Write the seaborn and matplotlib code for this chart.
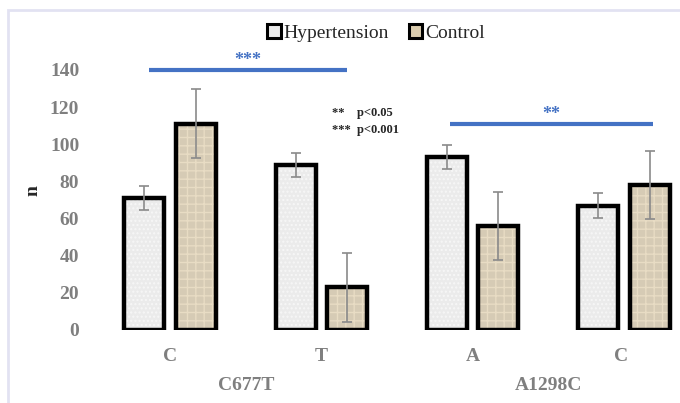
import numpy as np
import pandas as pd
import seaborn as sns
import matplotlib.pyplot as plt
from matplotlib.patches import Rectangle
from matplotlib.lines import Line2D

# data
alleles = ["C", "T", "A", "C "]
genes = ["C677T", "A1298C"]
hyper = [71, 89, 93, 67]
control = [111, 23, 56, 78]
hyper_err = [6.5, 6.5, 6.5, 6.5]
control_err = [18.5, 18.5, 18.5, 18.5]
groups = ["Hypertension", "Control"]
yticks = [0, 20, 40, 60, 80, 100, 120, 140]

df = pd.DataFrame({
    "allele": alleles * 2,
    "group": [groups[0]] * 4 + [groups[1]] * 4,
    "n": hyper + control,
    "err": hyper_err + control_err,
})

sns.set_style("white")
plt.rcParams["font.family"] = ["Liberation Serif", "DejaVu Serif"]

fig = plt.figure(figsize=(6.8, 4.03), dpi=100)
fig.patches.append(Rectangle((8 / 680, -0.1), 1.1, 1 - 10 / 403 + 0.1,
                             transform=fig.transFigure, fill=False,
                             edgecolor="#e2e2f2", lw=2))
ax = fig.add_axes([94.5 / 680, 73 / 403, 605 / 680, 278.6 / 403])

face = {"Hypertension": "#ebebeb", "Control": "#dccdaf"}
sns.barplot(data=df, x="allele", y="n", hue="group", palette=face,
            width=0.68, gap=0.22, errorbar=None, legend=False, ax=ax)

hatch_col = {"Hypertension": "#f7f7f7", "Control": "#e8dcc4"}
hatches = {"Hypertension": "....", "Control": "++"}
for cont, g in zip(ax.containers, groups):
    sub = df[df.group == g]
    for bar, e in zip(cont, sub["err"]):
        bar.set_hatch(hatches[g])
        bar.set_edgecolor(hatch_col[g])
        bar.set_linewidth(0)
        ax.add_patch(Rectangle(bar.get_xy(), bar.get_width(), bar.get_height(),
                               fill=False, edgecolor="black", lw=3.2, zorder=3))
    xs = [b.get_x() + b.get_width() / 2 for b in cont]
    ax.errorbar(xs, sub["n"], yerr=sub["err"], fmt="none", ecolor="#8a8a8a",
                elinewidth=1.2, capsize=3.5, capthick=1.2, zorder=4)

ax.set_xlim(-0.5, 3.5)
ax.set_ylim(0, 150)
ax.set_yticks(yticks)
ax.tick_params(axis="y", labelsize=14, labelcolor="#7f7f7f", pad=11, length=0)
ax.tick_params(axis="x", labelsize=14, labelcolor="#7f7f7f", pad=13, length=0)
for lab in ax.get_xticklabels() + ax.get_yticklabels():
    lab.set_fontweight("bold")
ax.set_xlabel("")
ax.set_ylabel("n", fontsize=14, fontweight="bold", labelpad=6)
sns.despine(ax=ax, left=True, bottom=True)

# gene labels under allele pairs
for i, gname in enumerate(genes):
    ax.text(0.5 + 2 * i, -0.2, gname, transform=ax.get_xaxis_transform(),
            ha="center", va="center", fontsize=14, fontweight="bold", color="#7f7f7f")

# significance bars
blue = "#4472c4"
ax.plot([-0.14, 1.17], [140, 140], color=blue, lw=3, solid_capstyle="butt")
ax.text(0.515, 140.5, "***", ha="center", va="bottom", color=blue, fontsize=13, fontweight="bold")
ax.plot([1.85, 3.19], [111, 111], color=blue, lw=3, solid_capstyle="butt")
ax.text(2.52, 111.5, "**", ha="center", va="bottom", color=blue, fontsize=13, fontweight="bold")

ax.text(1.07, 117, "**    p<0.05", fontsize=9, fontweight="bold", va="center")
ax.text(1.07, 107.5, "***  p<0.001", fontsize=9, fontweight="bold", va="center")

handles = [Rectangle((0, 0), 1, 1, facecolor=face[g], edgecolor="black", lw=2.2) for g in groups]
fig.legend(handles, groups, loc="center", bbox_to_anchor=(0.553, 0.918), ncol=2,
           frameon=False, fontsize=14, handlelength=0.7, handleheight=0.7,
           handletextpad=0.15, columnspacing=1.0)

fig.savefig("out.png", dpi=100)
